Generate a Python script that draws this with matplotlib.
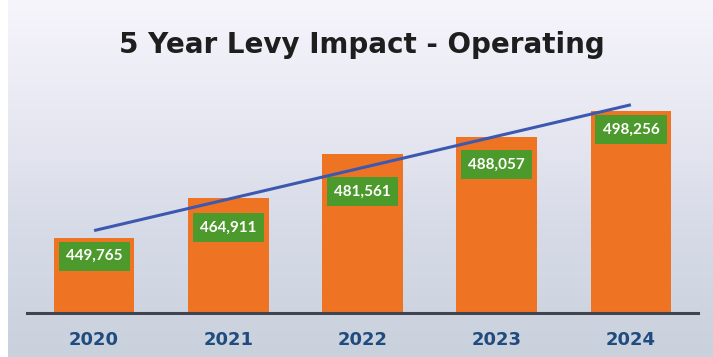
import numpy as np
import matplotlib.pyplot as plt
from matplotlib.colors import LinearSegmentedColormap

years = ["2020", "2021", "2022", "2023", "2024"]
levy = [449765, 464911, 481561, 488057, 498256]
value_labels = ["449,765", "464,911", "481,561", "488,057", "498,256"]
# distance (px) from each bar top down to the centre of its value tag
label_drop = [18.5, 29.5, 37, 27, 19]

W, H, DPI = 713, 357, 100
fig = plt.figure(figsize=(W / DPI, H / DPI), dpi=DPI)
fig.patch.set_facecolor("white")

# slide background: soft vertical gradient with a thin white margin on the left
bg = fig.add_axes([8 / W, 0, 1 - 8 / W, 1])
bg.set_axis_off()
grad = LinearSegmentedColormap.from_list(
    "slide", ["#f6f5fc", "#e8e8f2", "#d5dae6", "#c9d1dd"])
bg.imshow(np.linspace(0, 1, 256).reshape(-1, 1), aspect="auto", cmap=grad,
          extent=[0, 1, 0, 1], origin="upper")
bg.set_xlim(0, 1)
bg.set_ylim(0, 1)

title = fig.text(362 / W, 1 - 45 / H, "5 Year Levy Impact - Operating",
                 ha="center", va="center", fontsize=20, fontweight="bold",
                 family="DejaVu Sans", color="#1e1e1e")

ax = fig.add_axes([27 / W, 44 / H, 671 / W, 233 / H])
ax.set_facecolor("none")
x = np.arange(len(years))
ax.bar(x, levy, width=0.6, color="#ee7423", zorder=2)
ax.set_xlim(-0.5, 4.5)
ax.set_ylim(421000, 510000)

# linear trend through the yearly values
coef = np.polyfit(x, levy, 1)
ax.plot(x, np.polyval(coef, x), color="#3d58b0", lw=2.2,
        solid_capstyle="butt", zorder=4)

for xi, v, lab, d in zip(x, levy, value_labels, label_drop):
    ax.annotate(lab, (xi, v), xytext=(0, -d * 72 / DPI),
                textcoords="offset points", ha="center", va="center",
                fontsize=11, fontweight="bold", family="Lato", color="white",
                bbox=dict(boxstyle="square,pad=0.48", fc="#4d9a2c", ec="none"),
                zorder=5)

for s in ["top", "right", "left"]:
    ax.spines[s].set_visible(False)
ax.spines["bottom"].set_color("#3e454e")
ax.spines["bottom"].set_linewidth(2.2)
ax.set_yticks([])
ax.set_xticks(x)
ax.set_xticklabels(years, fontsize=13, fontweight="bold",
                   family="DejaVu Sans", color="#1f4b7e")
ax.tick_params(axis="x", length=0, pad=13)

fig.savefig("out.png", dpi=DPI)
